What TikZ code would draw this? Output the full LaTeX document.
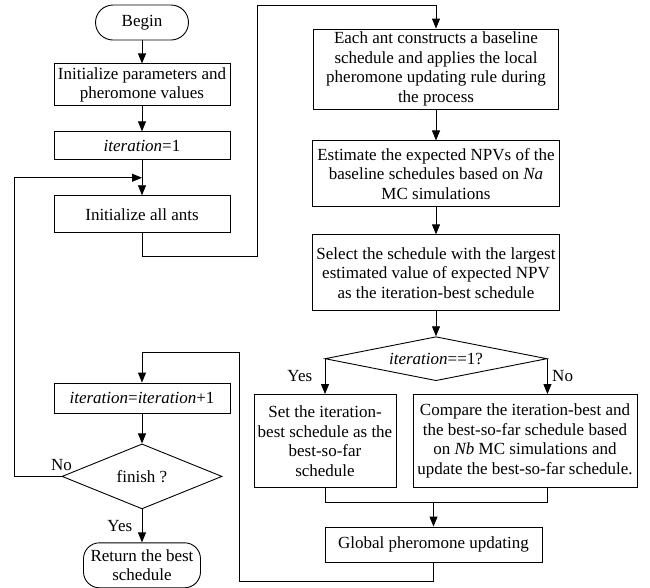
\documentclass[tikz,border=0pt]{standalone}
\usepackage{fontspec}
\setmainfont{Liberation Serif}
\usetikzlibrary{arrows.meta,shapes.geometric,positioning,calc}

\begin{document}
\begin{tikzpicture}[
    x=1pt, y=1pt,
    font=\fontsize{17}{19.5}\selectfont,
    box/.style={rectangle, draw, line width=0.9pt, align=center, inner sep=1pt},
    term/.style={rectangle, draw, line width=0.9pt, align=center, inner sep=1pt},
    cond/.style={diamond, draw, line width=0.9pt, align=center, inner sep=0pt, aspect=5},
    line/.style={line width=0.9pt},
    arrow/.style={line width=0.9pt, -{Triangle[length=10pt,width=8pt]}}
]
    \useasboundingbox (0,0) rectangle (650,-587);

    % left column
    \node[term, rounded corners=17.5pt, minimum width=93pt, minimum height=35pt] (begin) at (142,-22.5) {Begin};
    \node[box, minimum width=176pt, minimum height=42pt, below=23pt of begin] (init) {Initialize parameters and\\pheromone values};
    \node[box, minimum width=176pt, minimum height=28pt, below=25pt of init] (iterone) {\textit{iteration}=1};
    \node[box, minimum width=176pt, minimum height=37pt, below=35pt of iterone] (ants) {Initialize all ants};

    \node[box, minimum width=176pt, minimum height=30pt] (incr) at (142,-398) {\textit{iteration}=\textit{iteration}+1};
    \node[cond, minimum width=160pt, minimum height=65pt, aspect=2.5, below=30pt of incr] (finish) {finish ?};
    \node[term, rounded corners=16pt, minimum width=117pt, minimum height=45pt, below=33pt of finish] (ret) {Return the best\\schedule};

    % right column
    \node[box, minimum width=245pt, minimum height=80pt] (each) at (436,-69) {Each ant constructs a baseline\\schedule and applies the local\\pheromone updating rule during\\the process};
    \node[box, minimum width=247pt, minimum height=66pt, below=31pt of each] (est) {Estimate the expected NPVs of the\\baseline schedules based on \textit{Na}\\MC simulations};
    \node[box, minimum width=247pt, minimum height=76pt, below=27pt of est] (sel) {Select the schedule with the largest\\estimated value of expected NPV\\as the iteration-best schedule};
    \node[cond, minimum width=222pt, minimum height=44pt, below=25pt of sel] (dec) {\textit{iteration}==1?};

    \node[box, minimum width=142pt, minimum height=93pt] (set) at (325,-441) {Set the iteration-\\best schedule as the\\best-so-far\\schedule};
    \node[box, minimum width=224pt, minimum height=93pt] (cmp) at (525,-441) {Compare the iteration-best and\\the best-so-far schedule based\\on \textit{Nb} MC simulations and\\update the best-so-far schedule.};
    \node[box, minimum width=217pt, minimum height=35pt] (glob) at (433.5,-544.5) {Global pheromone updating};

    % connectors
    \draw[arrow] (begin) -- (init);
    \draw[arrow] (init) -- (iterone);
    \draw[arrow] (iterone) -- (ants);
    \draw[arrow] (ants.south) -- ++(0,-23) -- ++(115,0) |- ($(each.north)+(0,23)$) -- (each.north);
    \draw[arrow] (each) -- (est);
    \draw[arrow] (est) -- (sel);
    \draw[arrow] (sel) -- (dec);
    \draw[arrow] (dec.west) -| node[pos=0.75, left=9pt] {Yes} (set.north);
    \draw[arrow] (dec.east) -- node[right=1pt] {No} (dec.east |- cmp.north);

    \coordinate (join) at ($(set.south)+(0,-14)$);
    \draw[line] (set.south) -- (join) -- (join -| dec.east) -- (dec.east |- cmp.south);
    \draw[arrow] (join -| glob.north) -- (glob.north);
    \draw[arrow] (glob.south) -- ++(0,-19) -- ++(-194.5,0) |- ($(incr.north)+(0,30)$) -- (incr.north);

    \draw[arrow] (incr) -- (finish);
    \draw[arrow] (finish.west) -- node[pos=0, above=4pt, inner sep=1pt] {No} ++(-47,0) |- ($(iterone.south)!0.5!(ants.north)$);
    \draw[arrow] (finish.south) -- node[left=6pt] {Yes} (ret.north);
\end{tikzpicture}
\end{document}
